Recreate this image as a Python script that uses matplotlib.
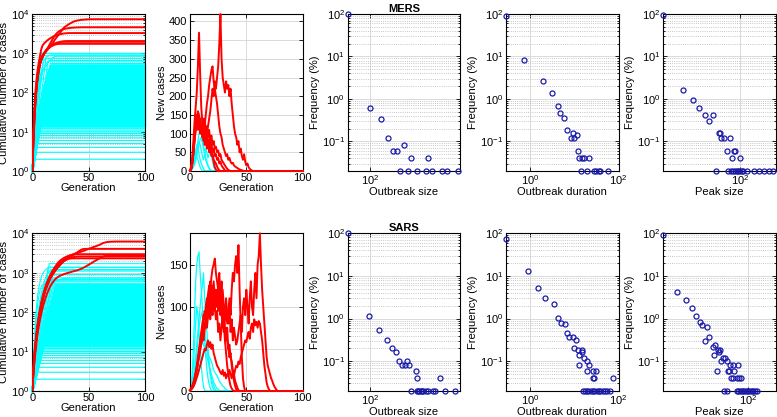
import numpy as np
import matplotlib
matplotlib.use('Agg')
import matplotlib.pyplot as plt
from matplotlib.ticker import LogLocator, NullLocator, FixedLocator, NullFormatter

plt.rcParams['font.family'] = ['Liberation Sans', 'DejaVu Sans']
plt.rcParams['mathtext.fontset'] = 'custom'
plt.rcParams['mathtext.rm'] = 'Liberation Sans'
plt.rcParams['mathtext.it'] = 'Liberation Sans:italic'
plt.rcParams['mathtext.bf'] = 'Liberation Sans:bold'
plt.rcParams['font.size'] = 8

# ---------------- DATA ----------------
generations = np.arange(101)

# MERS: new cases per generation of the large (red) outbreaks
mers_red_1 = [1, 6, 20, 45, 80, 110, 130, 150, 120, 140, 100,
              100, 80, 90, 110, 100, 120, 140, 160, 190, 220,
              200, 240, 220, 250, 280, 340, 420, 300, 250, 230,
              210, 240, 220, 230, 200, 220, 180, 150, 120, 100,
              90, 70, 80, 50, 60, 40, 30, 45, 25, 15, 20, 10, 6, 3, 1]
mers_red_2 = [1, 8, 25, 55, 90, 120, 140, 110, 130, 100, 120,
              110, 140, 120, 150, 180, 200, 230, 250, 270, 280,
              240, 220, 200, 180, 150, 120, 100, 90, 70, 60,
              50, 40, 45, 30, 35, 25, 20, 22, 15, 12, 10, 8, 6, 4, 3, 2, 1]
mers_red_3 = [1, 10, 35, 80, 130, 170, 210, 280, 370, 260, 170,
              130, 110, 140, 100, 120, 90, 110, 80, 95, 70,
              80, 60, 65, 50, 55, 40, 45, 30, 25, 20, 15, 10, 6, 3, 1]
mers_red_4 = [1, 6, 20, 50, 80, 110, 130, 150, 140, 120, 110,
              120, 100, 90, 110, 80, 70, 85, 60, 75, 50, 60, 40, 45, 30, 35,
              20, 25, 15, 10, 6, 2]
mers_red_5 = [1, 5, 25, 60, 100, 140, 150, 130, 120, 140, 110,
              90, 100, 70, 80, 60, 75, 50, 60, 40, 45, 30, 25, 20, 12, 6, 2]
mers_red_6 = [1, 4, 18, 45, 90, 120, 140, 160, 150, 130, 100,
              110, 90, 120, 80, 100, 70, 60, 80, 50, 40, 25, 10, 4]
mers_red = [mers_red_1, mers_red_2, mers_red_3, mers_red_4, mers_red_5, mers_red_6]

# MERS: new cases of some smaller (cyan) outbreaks
mers_cyan_1 = [1, 3, 8, 18, 30, 45, 60, 80, 100, 120, 140, 100, 70, 50, 35, 25, 15, 8, 4, 1]
mers_cyan_2 = [1, 4, 12, 25, 40, 55, 70, 60, 45, 30, 20, 12, 6, 2]
mers_cyan_3 = [1, 2, 6, 12, 20, 35, 50, 65, 80, 70, 55, 40, 30, 45, 60, 50, 35, 45, 55, 40, 25, 12, 5, 2, 1]
mers_cyan_4 = [1, 3, 9, 20, 35, 50, 40, 30, 20, 10, 4, 1]
mers_cyan_5 = [1, 2, 5, 10, 18, 28, 40, 55, 70, 85, 90, 75, 60, 45, 30, 20, 12, 6, 2]
mers_cyan = [mers_cyan_1, mers_cyan_2, mers_cyan_3, mers_cyan_4, mers_cyan_5]

# MERS: final size and generation of plateau of the other small outbreaks
mers_small_final = [1, 2, 3, 4, 5, 6, 7, 8, 9, 10, 11, 12, 13, 14, 15, 16, 17, 18, 19, 20,
                    21, 22, 23, 25, 26, 28, 30, 31, 33, 35, 37, 40, 42, 45, 47, 50, 53, 57,
                    60, 64, 68, 72, 77, 82, 87, 92, 98, 104, 110, 117, 124, 132, 140, 149,
                    158, 168, 178, 189, 200, 213, 226, 240, 255, 271, 288, 306, 325, 345,
                    366, 389, 413, 439, 466, 495, 550, 630, 740, 860, 1000]
mers_small_end = [0, 1, 1, 2, 2, 2, 3, 3, 3, 3, 4, 4, 4, 4, 4, 5, 5, 5, 5, 5,
                  5, 6, 6, 6, 6, 6, 6, 6, 7, 7, 7, 7, 7, 7, 7, 8, 8, 8,
                  8, 8, 8, 9, 9, 9, 9, 9, 10, 10, 10, 10, 10, 11, 11, 11,
                  11, 12, 12, 12, 12, 13, 13, 13, 13, 14, 14, 14, 14, 15,
                  15, 15, 16, 16, 16, 17, 16, 14, 12, 10, 8]

# SARS: new cases per generation of the large (red) outbreaks
sars_red_1 = [1, 2, 4, 7, 12, 18, 25, 35, 45, 55, 60, 70, 80, 75, 90, 100, 95, 110, 120, 105, 115,
              130, 110, 120, 100, 125, 140, 110, 95, 120, 100, 85, 110, 90, 80, 100, 70, 85, 60, 75, 65, 55,
              60, 70, 80, 90, 70, 100, 110, 90, 120, 100, 80, 110, 130, 100, 90, 120, 140, 110, 150, 160,
              187, 150, 120, 100, 80, 60, 40, 30, 25, 20, 15, 12, 8, 5, 3, 1]
sars_red_2 = [1, 3, 6, 10, 15, 22, 30, 40, 50, 60, 70, 80, 90, 85, 100, 110, 100, 120, 130, 115, 125,
              110, 100, 85, 95, 70, 80, 60, 75, 90, 70, 85, 100, 80, 95, 110, 90, 120, 140, 130, 150,
              160, 140, 173, 120, 80, 40, 15, 5]
sars_red_3 = [1, 2, 5, 8, 14, 20, 28, 35, 45, 55, 65, 75, 85, 95, 90, 105, 115, 125, 120, 135, 145,
              150, 157, 140, 130, 120, 100, 110, 90, 80, 95, 70, 60, 75, 50, 40, 45, 30, 20, 12, 6, 2]
sars_red_4 = [1, 2, 4, 8, 12, 18, 25, 32, 40, 48, 55, 62, 70, 80, 75, 90, 100, 95, 110, 100, 105,
              115, 100, 120, 110, 95, 105, 90, 100, 80, 85, 70, 75, 60, 50, 55, 40, 35, 25, 20, 12, 8, 4, 1]
sars_red_5 = [1, 3, 5, 9, 14, 20, 26, 34, 42, 50, 58, 66, 60, 72, 80, 75, 88, 95, 85, 100, 90,
              105, 95, 110, 100, 115, 120, 110, 130, 100, 80, 60, 45, 30, 20, 12, 6, 3, 1]
sars_red_6 = [1, 2, 3, 5, 8, 12, 16, 20, 25, 30, 35, 40, 45, 50, 48, 55, 60, 52, 58, 50, 55,
              45, 40, 35, 30, 28, 25, 22, 20, 25, 18, 22, 15, 20, 18, 25, 20, 15, 22, 18, 25,
              30, 28, 35, 32, 40, 45, 50, 55, 60, 58, 65, 70, 62, 75, 80, 70, 85, 78, 82, 75,
              83, 80, 70, 60, 45, 30, 20, 10, 5, 2]
sars_red = [sars_red_1, sars_red_2, sars_red_3, sars_red_4, sars_red_5, sars_red_6]

sars_cyan_1 = [1, 5, 20, 50, 90, 130, 150, 160, 165, 140, 120, 100, 80, 60, 40, 25, 15, 8, 3, 1]
sars_cyan_2 = [1, 3, 8, 15, 25, 40, 55, 70, 85, 100, 115, 125, 140, 110, 90, 70, 50, 35, 20, 10, 5, 2]
sars_cyan_3 = [1, 2, 5, 10, 18, 30, 45, 60, 75, 85, 90, 95, 85, 70, 60, 50, 40, 30, 20, 15, 10, 6, 3, 1]
sars_cyan_4 = [1, 2, 4, 8, 12, 18, 25, 30, 40, 50, 55, 60, 55, 50, 45, 40, 35, 30, 25, 20, 15, 10, 8, 5, 3, 2, 1]
sars_cyan_5 = [1, 1, 3, 5, 8, 10, 15, 20, 25, 30, 35, 40, 45, 50, 55, 50, 45, 40, 38, 35, 30, 25, 22,
               20, 18, 15, 12, 10, 8, 6, 5, 3, 2, 1]
sars_cyan_6 = [1, 4, 12, 30, 55, 80, 100, 90, 70, 50, 30, 15, 5, 1]
sars_cyan = [sars_cyan_1, sars_cyan_2, sars_cyan_3, sars_cyan_4, sars_cyan_5, sars_cyan_6]

sars_small_final = [1, 2, 3, 4, 5, 6, 7, 8, 9, 10, 11, 12, 13, 14, 15, 16, 17, 18, 19, 20,
                    21, 22, 23, 25, 26, 28, 30, 31, 33, 35, 37, 40, 42, 45, 47, 50, 53, 57,
                    60, 64, 68, 72, 77, 82, 87, 92, 98, 104, 110, 117, 124, 132, 140, 149,
                    158, 168, 178, 189, 200, 213, 226, 240, 255, 271, 288, 306, 325, 345,
                    366, 389, 413, 439, 480, 500, 610, 670, 740, 900, 1100, 1200, 1380, 1700]
sars_small_end = [0, 1, 2, 2, 3, 3, 3, 4, 4, 4, 5, 5, 5, 5, 6, 6, 6, 6, 7, 7,
                  7, 7, 8, 8, 8, 8, 9, 9, 9, 9, 10, 10, 10, 10, 11, 11, 11, 12,
                  12, 12, 12, 13, 13, 13, 14, 14, 14, 15, 15, 15, 16, 16, 16, 17,
                  17, 17, 18, 18, 18, 19, 19, 19, 20, 20, 20, 21, 21, 22, 22, 22,
                  23, 23, 22, 21, 20, 19, 18, 18, 17, 16, 14, 15]

# Frequency distributions (%)
mers_size_x = [33.5, 100, 171, 238, 304, 375, 529, 734, 1735,
               442, 654, 1013, 1577, 2155, 3404, 4508, 7480]
mers_size_f = [99, 0.62, 0.34, 0.12, 0.06, 0.06, 0.08, 0.04, 0.04,
               0.02, 0.02, 0.02, 0.02, 0.02, 0.02, 0.02, 0.02]
mers_dur_x = [0.28, 0.71, 1.95, 3.06, 4.2, 4.7, 5.9, 6.9, 9.0, 8.1, 9.8, 11.3, 12.1,
              12.7, 14.4, 16.2, 21.4, 13.9, 18.7, 26.9, 30.8, 34.9, 37.4, 55.8]
mers_dur_f = [91, 8.2, 2.6, 1.4, 0.68, 0.46, 0.36, 0.18, 0.16, 0.12, 0.12, 0.14, 0.06,
              0.04, 0.04, 0.04, 0.04, 0.02, 0.02, 0.02, 0.02, 0.02, 0.02, 0.02]
mers_peak_x = [1.97, 5.33, 8.9, 12.5, 16.7, 20.2, 24.7, 33.6, 35.9, 38.5, 44.1, 60, 50.6,
               72.5, 78.6, 66.4, 100, 29.3, 55, 62, 71, 77, 84.4, 91.7, 100, 109, 118,
               141, 205, 268, 341, 442, 551]
mers_peak_f = [97, 1.6, 0.96, 0.62, 0.42, 0.3, 0.42, 0.16, 0.16, 0.12, 0.12, 0.12, 0.06,
               0.06, 0.06, 0.04, 0.04, 0.02, 0.02, 0.02, 0.02, 0.02, 0.02, 0.02, 0.02, 0.02,
               0.02, 0.02, 0.02, 0.02, 0.02, 0.02, 0.02]

sars_size_x = [33.5, 96.6, 158, 230, 294, 352, 420, 487, 546, 622, 687, 952, 1013, 3187,
               760, 1000, 1053, 1121, 1206, 1290, 1367, 1555, 1738, 2230, 2495, 4050, 6500]
sars_size_f = [99, 1.16, 0.54, 0.32, 0.2, 0.16, 0.1, 0.08, 0.08, 0.1, 0.08, 0.06, 0.04, 0.04,
               0.02, 0.02, 0.02, 0.02, 0.02, 0.02, 0.02, 0.02, 0.02, 0.02, 0.02, 0.02, 0.02]
sars_dur_x = [0.28, 0.89, 1.5, 2.13, 3.45, 4.18, 4.83, 6.03, 6.8, 7.5, 9.0, 10.6, 9.65,
              12.1, 14.6, 12.7, 15.1, 12.5, 16.8, 18.7, 21, 19.5, 26.4, 30.3, 25.5, 27.3, 76,
              15.6, 17.4, 18.7, 20.4, 23, 25.5, 28.3, 31.5, 34.9, 37.4, 43, 48.4, 54.6, 62.9]
sars_dur_f = [72, 13.4, 5.3, 3.0, 2.15, 1.02, 0.78, 0.76, 0.47, 0.37, 0.37, 0.31, 0.2,
              0.18, 0.18, 0.14, 0.16, 0.08, 0.12, 0.1, 0.08, 0.06, 0.06, 0.06, 0.04, 0.04, 0.04,
              0.02, 0.02, 0.02, 0.02, 0.02, 0.02, 0.02, 0.02, 0.02, 0.02, 0.02, 0.02, 0.02, 0.02]
sars_peak_x = [1.31, 2.6, 4.1, 5.6, 6.9, 8.5, 9.5, 12.4, 11.1, 13.8, 16.7, 18.5, 17.6, 23.1,
               20.8, 21.2, 23.9, 28.2, 30.8, 25.5, 33.6, 39.8, 47, 61, 35.4, 37.8, 49.6,
               41.3, 46.4, 56, 63, 71,
               29.8, 33.6, 56, 61, 66.4, 72, 78.6, 86, 93.6, 102, 110.8, 120, 131, 143, 156]
sars_peak_f = [90, 4.3, 2.77, 1.8, 1.16, 0.81, 0.72, 0.62, 0.3, 0.36, 0.21, 0.24, 0.14, 0.16,
               0.06, 0.18, 0.18, 0.12, 0.12, 0.1, 0.1, 0.08, 0.08, 0.08, 0.06, 0.06, 0.06,
               0.04, 0.04, 0.04, 0.04, 0.04,
               0.02, 0.02, 0.02, 0.02, 0.02, 0.02, 0.02, 0.02, 0.02, 0.02, 0.02, 0.02, 0.02, 0.02, 0.02]

# ---------------- FIGURE ----------------
W, H = 777, 417
fig = plt.figure(figsize=(W / 100, H / 100), dpi=100)
col_left = [32.3, 190, 347.7, 506, 663.3]
col_w = 112.7
row_tb = [(14, 171), (233.3, 391)]

CYAN = (0, 1, 1)
RED = (1, 0, 0)
BLUE = '#1a1aaa'
GRID = '#d4d4d4'
MINOR = '#b4b4b4'


def make_ax(c, r):
    t, b = row_tb[r]
    return fig.add_axes([col_left[c] / W, 1 - b / H, col_w / W, (b - t) / H])


def style(ax):
    for sp in ax.spines.values():
        sp.set_linewidth(0.8)
        sp.set_color('black')
    ax.tick_params(which='both', direction='in', top=True, right=True,
                   labelsize=8, pad=2, width=0.6, colors='black')
    ax.tick_params(axis='x', which='both', pad=1.5)
    ax.tick_params(which='major', length=3)
    ax.tick_params(which='minor', length=1.6)
    ax.set_axisbelow(True)


def pad(s):
    a = np.zeros(len(generations))
    a[:len(s)] = s
    return a


def log_y(ax):
    ax.set_yscale('log')
    ax.yaxis.set_major_locator(LogLocator(base=10, numticks=10))
    ax.yaxis.set_minor_locator(LogLocator(base=10, subs=np.arange(2, 10), numticks=20))
    ax.yaxis.set_minor_formatter(NullFormatter())
    ax.grid(True, which='major', color=GRID, lw=0.6, ls='-')
    ax.grid(True, which='minor', axis='y', color=MINOR, lw=0.6, ls=(0, (1, 1.6)))


def cumulative_panel(ax, red, cyan, small_final, small_end):
    for N, t in zip(small_final, small_end):
        lw = 0.8 if N <= 13 or N > 500 else 1.6
        ax.plot([0, t, 100], [1, N, N], color=CYAN, lw=lw, clip_on=False, zorder=2)
    for s in cyan:
        ax.plot(generations, np.cumsum(pad(s)), color=CYAN, lw=0.8, zorder=2)
    for s in red:
        ax.plot(generations, np.cumsum(pad(s)), color=RED, lw=1.4, zorder=3)
    log_y(ax)
    ax.set_xlim(0, 100)
    ax.set_ylim(1, 1e4)
    ax.set_xticks([0, 50, 100])
    ax.xaxis.set_minor_locator(NullLocator())
    ax.set_xlabel('Generation', labelpad=0)
    ax.set_ylabel('Cumulative number of cases', labelpad=1.5)
    style(ax)


def new_cases_panel(ax, red, cyan, ymax, yticks):
    for s in cyan:
        ax.plot(generations, pad(s), color=CYAN, lw=0.9, clip_on=False, zorder=2)
    for s in red:
        ax.plot(generations, pad(s), color=RED, lw=1.4, clip_on=False, zorder=3)
    ax.set_xlim(0, 100)
    ax.set_ylim(0, ymax)
    ax.set_xticks([0, 50, 100])
    ax.set_yticks(yticks)
    ax.grid(True, which='major', color=GRID, lw=0.6, ls='-')
    ax.set_xlabel('Generation', labelpad=0)
    ax.set_ylabel('New cases', labelpad=1.5)
    style(ax)


def freq_panel(ax, x, f, xlim, xticks, xlabel):
    ax.plot(x, f, 'o', mfc='none', mec=BLUE, ms=3.6, mew=0.9, clip_on=False, zorder=4)
    ax.set_xscale('log')
    log_y(ax)
    ax.set_xlim(*xlim)
    ax.set_ylim(0.02, 100)
    ax.xaxis.set_major_locator(FixedLocator(xticks))
    ax.xaxis.set_minor_locator(NullLocator())
    ax.yaxis.set_major_locator(FixedLocator([0.1, 1, 10, 100]))
    ax.set_xlabel(xlabel, labelpad=0)
    ax.set_ylabel('Frequency (%)', labelpad=1.5)
    style(ax)


# Row 1: MERS
cumulative_panel(make_ax(0, 0), mers_red, mers_cyan, mers_small_final, mers_small_end)
new_cases_panel(make_ax(1, 0), mers_red, mers_cyan, 420, [0, 50, 100, 150, 200, 250, 300, 350, 400])
a = make_ax(2, 0)
freq_panel(a, mers_size_x, mers_size_f, (33.5, 8500), [100], 'Outbreak size')
a.set_title('MERS', fontweight='bold', fontsize=8, pad=1)
freq_panel(make_ax(3, 0), mers_dur_x, mers_dur_f, (0.28, 100), [1, 100], 'Outbreak duration')
freq_panel(make_ax(4, 0), mers_peak_x, mers_peak_f, (1.97, 631), [100], 'Peak size')

# Row 2: SARS
cumulative_panel(make_ax(0, 1), sars_red, sars_cyan, sars_small_final, sars_small_end)
new_cases_panel(make_ax(1, 1), sars_red, sars_cyan, 187, [0, 50, 100, 150])
a = make_ax(2, 1)
freq_panel(a, sars_size_x, sars_size_f, (33.5, 8500), [100], 'Outbreak size')
a.set_title('SARS', fontweight='bold', fontsize=8, pad=1)
freq_panel(make_ax(3, 1), sars_dur_x, sars_dur_f, (0.28, 100), [1, 100], 'Outbreak duration')
freq_panel(make_ax(4, 1), sars_peak_x, sars_peak_f, (1.31, 419), [100], 'Peak size')

fig.savefig('out.png', dpi=100)
